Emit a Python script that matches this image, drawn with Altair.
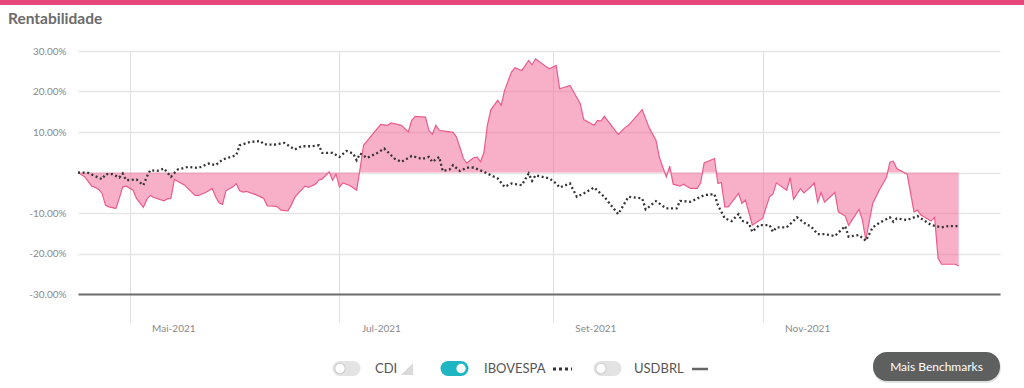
import altair as alt
import pandas as pd

# ---------------- data ----------------
fund_dates = [
    "2021-04-16","2021-04-18","2021-04-20","2021-04-21","2021-04-22","2021-04-23","2021-04-24","2021-04-25",
    "2021-04-27","2021-04-28","2021-04-29","2021-04-30","2021-05-02","2021-05-03","2021-05-05","2021-05-06",
    "2021-05-07","2021-05-08","2021-05-11","2021-05-12","2021-05-13","2021-05-14","2021-05-17","2021-05-20",
    "2021-05-21","2021-05-23","2021-05-25","2021-05-26","2021-05-27","2021-05-28","2021-05-29","2021-05-31",
    "2021-06-01","2021-06-02","2021-06-03","2021-06-04","2021-06-07","2021-06-09","2021-06-10","2021-06-12",
    "2021-06-13","2021-06-14","2021-06-16","2021-06-17","2021-06-18","2021-06-19","2021-06-21","2021-06-22",
    "2021-06-24","2021-06-25","2021-06-26","2021-06-27","2021-06-28","2021-06-29","2021-06-30","2021-07-01",
    "2021-07-02","2021-07-04","2021-07-06","2021-07-07","2021-07-08","2021-07-10","2021-07-13","2021-07-15",
    "2021-07-16","2021-07-19","2021-07-21","2021-07-22","2021-07-23","2021-07-26","2021-07-27","2021-07-28",
    "2021-07-29","2021-07-30","2021-08-03","2021-08-04","2021-08-05","2021-08-06","2021-08-07","2021-08-08",
    "2021-08-09","2021-08-10","2021-08-11","2021-08-12","2021-08-13","2021-08-14","2021-08-16","2021-08-17",
    "2021-08-18","2021-08-20","2021-08-21","2021-08-23","2021-08-25","2021-08-26","2021-08-27","2021-08-30",
    "2021-08-31","2021-09-02","2021-09-03","2021-09-06","2021-09-09","2021-09-10","2021-09-13","2021-09-14",
    "2021-09-15","2021-09-16","2021-09-20","2021-09-22","2021-09-23","2021-09-27","2021-09-29","2021-10-01",
    "2021-10-02","2021-10-04","2021-10-05","2021-10-06","2021-10-08","2021-10-09","2021-10-11","2021-10-13",
    "2021-10-14","2021-10-15","2021-10-18","2021-10-19","2021-10-20","2021-10-21","2021-10-22","2021-10-25",
    "2021-10-26","2021-10-27","2021-10-29","2021-11-01","2021-11-03","2021-11-04","2021-11-05","2021-11-08",
    "2021-11-09","2021-11-10","2021-11-12","2021-11-13","2021-11-15","2021-11-16","2021-11-17","2021-11-18",
    "2021-11-19","2021-11-22","2021-11-23","2021-11-25","2021-11-26","2021-11-29","2021-11-30","2021-12-01",
    "2021-12-03","2021-12-05","2021-12-07","2021-12-08","2021-12-09","2021-12-10","2021-12-13","2021-12-15",
    "2021-12-16","2021-12-17","2021-12-20","2021-12-21","2021-12-22","2021-12-23","2021-12-27","2021-12-28",
]
fund_values = [
    0.0,-1.08,-3.37,-3.69,-4.19,-5.17,-8.13,-8.47,
    -8.87,-6.40,-3.55,-3.37,-4.36,-6.40,-8.62,-6.65,
    -5.67,-6.16,-7.00,-6.50,-6.40,-1.72,-3.13,-5.67,
    -5.67,-5.02,-3.94,-6.01,-7.49,-7.88,-4.53,-3.55,
    -2.71,-4.53,-4.85,-4.68,-5.59,-6.40,-8.23,-8.30,
    -8.47,-9.29,-9.46,-8.05,-6.16,-5.17,-3.37,-3.69,
    -2.88,-1.90,-1.58,-0.74,0.15,-1.90,-0.42,-3.55,
    -2.56,-3.20,-4.36,0.99,6.72,8.77,11.90,11.65,
    12.22,11.65,10.00,12.88,13.87,13.69,10.42,9.43,
    11.65,10.42,9.93,8.77,6.23,3.52,2.29,3.03,
    3.65,3.77,2.66,5.00,11.72,15.47,17.81,16.58,
    20.27,24.78,25.86,25.20,27.66,26.60,28.08,26.18,
    25.62,26.43,20.69,21.51,17.00,13.05,11.65,12.88,
    12.71,13.87,9.43,11.08,11.65,15.52,11.08,7.96,
    3.69,-1.08,1.55,-2.88,-3.37,-2.88,-3.94,-3.94,
    -2.56,2.36,3.45,-2.71,-2.46,-8.47,-8.47,-5.17,
    -7.64,-6.82,-12.98,-11.33,-6.01,-5.34,-2.56,-4.36,
    -1.23,-6.65,-3.94,-5.02,-3.55,-2.56,-7.32,-4.93,
    -7.32,-4.93,-9.70,-10.76,-13.05,-9.11,-11.75,-16.67,
    -7.64,-4.19,-1.23,2.54,2.78,0.99,-0.42,-9.70,
    -9.29,-10.52,-12.00,-11.08,-21.18,-22.66,-22.66,-23.08,
]

ibov_dates = [
    "2021-04-16","2021-04-19","2021-04-21","2021-04-23","2021-04-24","2021-04-26","2021-04-28","2021-04-29",
    "2021-04-30","2021-05-03","2021-05-05","2021-05-06","2021-05-07","2021-05-09","2021-05-11","2021-05-13",
    "2021-05-15","2021-05-18","2021-05-21","2021-05-24","2021-05-26","2021-05-28","2021-06-01","2021-06-02",
    "2021-06-05","2021-06-08","2021-06-09","2021-06-12","2021-06-15","2021-06-18","2021-06-20","2021-06-23",
    "2021-06-25","2021-06-26","2021-06-29","2021-07-01","2021-07-03","2021-07-05","2021-07-06","2021-07-07",
    "2021-07-09","2021-07-12","2021-07-14","2021-07-17","2021-07-19","2021-07-22","2021-07-25","2021-07-27",
    "2021-07-28","2021-07-30","2021-07-31","2021-08-02","2021-08-03","2021-08-05","2021-08-07","2021-08-09",
    "2021-08-12","2021-08-14","2021-08-16","2021-08-18","2021-08-20","2021-08-23","2021-08-25","2021-08-26",
    "2021-08-27","2021-08-31","2021-09-02","2021-09-03","2021-09-06","2021-09-08","2021-09-10","2021-09-13",
    "2021-09-16","2021-09-20","2021-09-23","2021-09-27","2021-09-28","2021-09-29","2021-10-01","2021-10-04",
    "2021-10-07","2021-10-08","2021-10-11","2021-10-15","2021-10-18","2021-10-19","2021-10-21","2021-10-23",
    "2021-10-25","2021-10-26","2021-10-28","2021-10-29","2021-10-31","2021-11-03","2021-11-04","2021-11-05",
    "2021-11-08","2021-11-11","2021-11-14","2021-11-15","2021-11-17","2021-11-19","2021-11-22","2021-11-25",
    "2021-11-26","2021-11-29","2021-12-01","2021-12-03","2021-12-05","2021-12-08","2021-12-09","2021-12-10",
    "2021-12-13","2021-12-16","2021-12-20","2021-12-23","2021-12-25","2021-12-28",
]
ibov_values = [
    0.0,-0.10,-0.91,-1.65,-0.42,-0.42,-1.23,-0.25,
    -1.90,-1.72,-3.13,-1.08,0.57,0.39,0.99,-1.08,
    0.74,1.38,1.13,2.22,1.80,3.20,4.26,6.72,
    7.54,7.78,6.97,6.85,7.29,5.67,6.48,6.48,
    6.72,4.83,4.83,3.84,5.32,4.68,3.03,4.68,
    3.60,4.83,5.91,3.45,2.61,4.09,3.35,3.84,
    2.61,3.84,0.39,0.74,1.80,0.37,1.18,1.23,
    0.15,-0.67,-1.48,-3.55,-2.71,-3.13,-0.25,-2.07,
    -0.67,-1.48,-2.71,-3.69,-2.71,-6.01,-5.17,-3.69,
    -6.01,-10.27,-6.01,-6.40,-9.11,-8.47,-7.07,-8.87,
    -8.87,-7.00,-7.24,-5.59,-5.34,-8.05,-11.33,-12.00,
    -10.27,-11.92,-12.56,-14.63,-12.98,-12.98,-14.63,-13.55,
    -13.55,-11.08,-12.98,-13.23,-15.20,-15.20,-15.69,-13.23,
    -15.86,-15.44,-16.85,-13.55,-12.41,-11.08,-12.17,-11.33,
    -11.75,-10.76,-12.98,-13.55,-13.23,-13.23,
]

y_ticks = [-30, -20, -10, 0, 10, 20, 30]
month_names = ["Jan", "Fev", "Mar", "Abr", "Mai", "Jun", "Jul", "Ago", "Set", "Out", "Nov", "Dez"]
x_tick_months = [(2021, 5), (2021, 7), (2021, 9), (2021, 11)]
legend_labels = ["CDI", "IBOVESPA", "USDBRL"]
title_text = "Rentabilidade"
button_text = "Mais Benchmarks"

# ---------------- frames ----------------
fund_df = pd.DataFrame({"date": fund_dates, "value": fund_values})
ibov_df = pd.DataFrame({"date": ibov_dates, "value": ibov_values})
one = pd.DataFrame({"k": [0]})

FONT = "Lato"
month_arr = "[" + ",".join("'%s'" % m for m in month_names) + "]"

x_scale = alt.Scale(domain=[alt.DateTime(year=2021, month=4, date=16, utc=True),
                            alt.DateTime(year=2022, month=1, date=9, utc=True)])
y_scale = alt.Scale(domain=[-30, 30], nice=False)

x_axis = alt.Axis(
    title=None,
    values=[alt.DateTime(year=y, month=m, date=1, utc=True) for y, m in x_tick_months],
    labelExpr=month_arr + "[utcmonth(datum.value)] + '-' + utcyear(datum.value)",
    grid=True, gridColor="#dedede", gridWidth=1,
    domain=True, domainColor="#6e6e6e", domainWidth=2,
    ticks=True, tickSize=28, tickColor="#e2e2e2", tickWidth=1,
    labelAlign="left", labelOffset=22, labelPadding=1,
    labelFont=FONT, labelFontSize=10, labelColor="#8a8a8a",
)
y_axis = alt.Axis(
    title=None, values=y_ticks,
    labelExpr="datum.value == 0 ? '' : (datum.value < 0 ? '-' : '') + format(abs(datum.value), '.2f') + '%'",
    grid=True, gridColor="#e6e6e6", gridWidth=1.5,
    domain=False, ticks=False, labelPadding=12,
    labelFont=FONT, labelFontSize=10, labelColor="#8a8a8a",
)

area = alt.Chart(fund_df).mark_area(color="#f06292", opacity=0.5).encode(
    x=alt.X("date:T", scale=x_scale, axis=x_axis),
    y=alt.Y("value:Q", scale=y_scale, axis=y_axis),
    y2=alt.datum(0),
)
fund_line = alt.Chart(fund_df).mark_line(color="#ec5b8d", strokeWidth=1.2).encode(
    x="date:T", y="value:Q"
)
ibov_line = alt.Chart(ibov_df).mark_line(color="#353535", strokeWidth=2.3, strokeDash=[2, 2.6]).encode(
    x="date:T", y="value:Q"
)

# --------- decorations (positions relative to plot origin at 78,51) ---------
def txt(text, x, y, size=13, color="#555555", weight="normal", align="left", baseline="middle"):
    return alt.Chart(one).mark_text(text=text, font=FONT, fontSize=size, color=color,
                                    fontWeight=weight, align=align, baseline=baseline).encode(
        x=alt.value(x), y=alt.value(y))

top_bar = alt.Chart(one).mark_rect(color="#e6487b").encode(
    x=alt.value(-78), x2=alt.value(946), y=alt.value(-51), y2=alt.value(-46))
title = txt(title_text, -70, -27, size=15.5, color="#6b6b6b", weight="bold", baseline="alphabetic")

def toggle(x_left, on):
    pill_color = "#1fb6c3" if on else "#e3e3e3"
    pill = alt.Chart(one).mark_rule(color=pill_color, strokeWidth=15, strokeCap="round").encode(
        x=alt.value(x_left + 7), x2=alt.value(x_left + 20), y=alt.value(317.5))
    kx = x_left + 20 if on else x_left + 7
    knob = alt.Chart(one).mark_circle(color="white", stroke="#1fb6c3" if on else "#cfcfcf",
                                      strokeWidth=1.2, size=110, opacity=1).encode(
        x=alt.value(kx), y=alt.value(317.5))
    return pill + knob

tog1 = toggle(255, False)
tog2 = toggle(363, True)
tog3 = toggle(516, False)
lab1 = txt(legend_labels[0], 297, 318)
lab2 = txt(legend_labels[1], 406, 318)
lab3 = txt(legend_labels[2], 556, 318)
tri = alt.Chart(one).mark_point(shape="M -1 1 L 1 -1 L 1 1 Z", filled=True, color="#dadada",
                                size=150, opacity=1).encode(x=alt.value(329), y=alt.value(318))
dots = alt.Chart(one).mark_rule(color="#333333", strokeWidth=3, strokeDash=[3, 3]).encode(
    x=alt.value(475), x2=alt.value(494), y=alt.value(318))
dash = alt.Chart(one).mark_rule(color="#666666", strokeWidth=2.5).encode(
    x=alt.value(614), x2=alt.value(630), y=alt.value(318))
btn_shadow = alt.Chart(one).mark_rect(color="#000000", opacity=0.12, cornerRadius=15).encode(
    x=alt.value(795), x2=alt.value(923), y=alt.value(302), y2=alt.value(332))
btn = alt.Chart(one).mark_rect(color="#5e6060", cornerRadius=14).encode(
    x=alt.value(795), x2=alt.value(922), y=alt.value(301), y2=alt.value(330))
btn_label = txt(button_text, 858.5, 315.5, size=12, color="#ffffff", align="center")

chart = alt.layer(
    area, fund_line, ibov_line,
    top_bar, title,
    tog1, tog2, tog3, lab1, lab2, lab3, tri, dots, dash,
    btn_shadow, btn, btn_label,
).properties(
    width=922, height=243,
    padding={"left": 78, "top": 51, "right": 24, "bottom": 94},
    autosize=alt.AutoSizeParams(type="none"),
    background="white",
).configure_view(stroke=None)

chart.save("out.html", embed_options={"renderer": "svg", "actions": False})
